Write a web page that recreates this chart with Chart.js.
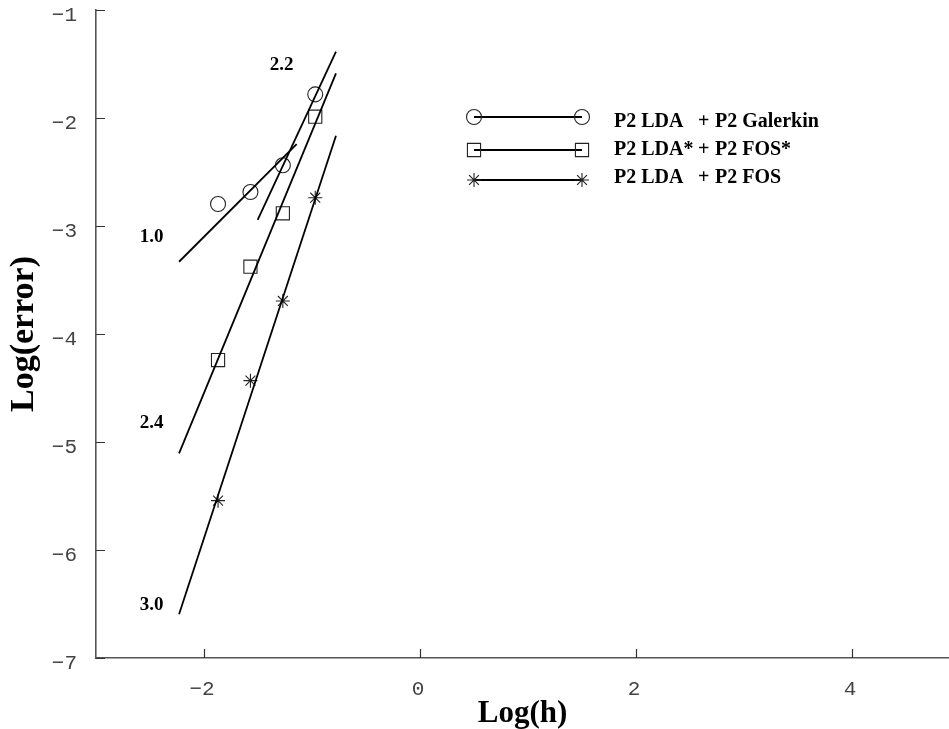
<!DOCTYPE html>
<html>
<head>
<meta charset="utf-8">
<script src="https://cdn.jsdelivr.net/npm/chart.js@4.4.1/dist/chart.umd.min.js"></script>
<style>
html,body{margin:0;padding:0;background:#fff;}
#wrap{width:949px;height:729px;position:relative;}
</style>
</head>
<body>
<div id="wrap"><canvas id="c" width="949" height="729"></canvas></div>
<script>
// ---- data ----
const logH = [-1.87, -1.57, -1.27, -0.97];
const galerkinErr = [-2.796, -2.685, -2.438, -1.781];
const fosStarErr  = [-4.241, -3.377, -2.882, -1.988];
const fosErr      = [-5.543, -4.432, -3.694, -2.738];

// reference slope lines (end points, data units)
const slope10X = [-2.231, -1.142], slope10Y = [-3.331, -2.241];
const slope22X = [-1.503, -0.778], slope22Y = [-2.944, -1.386];
const slope24X = [-2.231, -0.778], slope24Y = [-5.105, -1.586];
const slope30X = [-2.231, -0.778], slope30Y = [-6.595, -2.164];

const slopeLabels = ['1.0', '2.2', '2.4', '3.0'];
const slopeLabelX = [-2.484, -1.281, -2.484, -2.484];
const slopeLabelY = [-3.105, -1.509, -4.821, -6.509];

const xTicks = [-2, 0, 2, 4];
const yTicks = [-7, -6, -5, -4, -3, -2, -1];

const legendLeft  = ['P2 LDA', 'P2 LDA*', 'P2 LDA'];
const legendPlus  = ['+', '+', '+'];
const legendRight = ['P2 Galerkin', 'P2 FOS*', 'P2 FOS'];

// ---- helpers ----
const pts = (xs, ys) => xs.map((x, i) => ({x: x, y: ys[i]}));
const fmt = v => (v < 0 ? '\u2212' + Math.abs(v) : String(v));
const serifBold = '"Liberation Serif", "Times New Roman", serif';
const tickFont = '"Liberation Mono", "DejaVu Sans Mono", monospace';
const markerColor = '#222';
const lineColor = '#000';

const markerStyles = [
  {pointStyle: 'circle', radius: 7.5},
  {pointStyle: 'rect', radius: 9.3},
  {pointStyle: 'star', radius: 7}
];

function lineDs(xs, ys) {
  return {
    data: pts(xs, ys), showLine: true, borderColor: lineColor, borderWidth: 1.8,
    pointRadius: 0, pointHoverRadius: 0, fill: false
  };
}
function markDs(ys, m) {
  return {
    data: pts(logH, ys), showLine: false, pointStyle: m.pointStyle, pointRadius: m.radius,
    pointHoverRadius: m.radius, borderColor: markerColor, backgroundColor: 'rgba(0,0,0,0)',
    pointBorderWidth: 1.1
  };
}

const tickMarks = {
  id: 'tickMarks',
  afterDraw(chart) {
    const ctx = chart.ctx, xs = chart.scales.x, ys = chart.scales.y;
    const area = chart.chartArea;
    ctx.save();
    ctx.strokeStyle = '#333';
    ctx.lineWidth = 1.2;
    ctx.beginPath();
    xTicks.forEach(v => {
      const px = Math.round(xs.getPixelForValue(v)) + 0.5;
      ctx.moveTo(px, area.bottom); ctx.lineTo(px, area.bottom - 9);
    });
    yTicks.forEach(v => {
      const py = Math.round(ys.getPixelForValue(v)) + 0.5;
      ctx.moveTo(area.left, py); ctx.lineTo(area.left + 9, py);
    });
    ctx.stroke();
    ctx.restore();
  }
};

const slopeText = {
  id: 'slopeText',
  afterDatasetsDraw(chart) {
    const ctx = chart.ctx, xs = chart.scales.x, ys = chart.scales.y;
    ctx.save();
    ctx.fillStyle = '#000';
    ctx.font = 'bold 19px ' + serifBold;
    ctx.textAlign = 'center';
    ctx.textBaseline = 'middle';
    slopeLabels.forEach((t, i) => {
      ctx.fillText(t, xs.getPixelForValue(slopeLabelX[i]), ys.getPixelForValue(slopeLabelY[i]));
    });
    ctx.restore();
  }
};

const customLegend = {
  id: 'customLegend',
  afterDraw(chart) {
    const ctx = chart.ctx;
    const symY = [117, 150, 180];
    const baseY = [126.5, 154.5, 183];
    const x1 = 474, x2 = 582;
    ctx.save();
    legendLeft.forEach((t, i) => {
      ctx.strokeStyle = lineColor;
      ctx.lineWidth = 1.8;
      ctx.beginPath();
      ctx.moveTo(x1, symY[i]); ctx.lineTo(x2, symY[i]);
      ctx.stroke();
      ctx.strokeStyle = markerColor;
      ctx.fillStyle = 'rgba(0,0,0,0)';
      ctx.lineWidth = 1.1;
      const m = markerStyles[i];
      Chart.helpers.drawPoint(ctx, {pointStyle: m.pointStyle, radius: m.radius, borderWidth: 1.1, rotation: 0}, x1, symY[i]);
      Chart.helpers.drawPoint(ctx, {pointStyle: m.pointStyle, radius: m.radius, borderWidth: 1.1, rotation: 0}, x2, symY[i]);
      ctx.fillStyle = '#000';
      ctx.font = 'bold 20px ' + serifBold;
      ctx.textAlign = 'left';
      ctx.textBaseline = 'alphabetic';
      ctx.fillText(t, 614, baseY[i]);
      ctx.fillText(legendPlus[i], 698, baseY[i]);
      ctx.fillText(legendRight[i], 715, baseY[i]);
    });
    ctx.restore();
  }
};

new Chart(document.getElementById('c'), {
  type: 'scatter',
  data: {
    datasets: [
      lineDs(slope10X, slope10Y),
      lineDs(slope22X, slope22Y),
      lineDs(slope24X, slope24Y),
      lineDs(slope30X, slope30Y),
      markDs(galerkinErr, markerStyles[0]),
      markDs(fosStarErr, markerStyles[1]),
      markDs(fosErr, markerStyles[2])
    ]
  },
  options: {
    responsive: false,
    animation: false,
    devicePixelRatio: 1,
    layout: {autoPadding: false, padding: {top: 10, left: 0, right: 0, bottom: 0}},
    plugins: {legend: {display: false}, tooltip: {enabled: false}},
    scales: {
      x: {
        type: 'linear', position: 'bottom', min: -3, max: 4.898,
        grid: {display: false, drawTicks: false},
        border: {display: true, color: '#555', width: 1.6},
        afterBuildTicks: s => { s.ticks = xTicks.map(v => ({value: v})); },
        afterFit: s => { s.height = 71; s.paddingLeft = 0; s.paddingRight = 0; },
        ticks: {
          color: '#444', padding: 21, labelOffset: -2, maxRotation: 0, autoSkip: false,
          font: {family: tickFont, size: 21, lineHeight: 1},
          callback: v => fmt(v)
        },
        title: {
          display: true, text: 'Log(h)', color: '#000',
          font: {family: serifBold, size: 31, weight: 'bold', lineHeight: 1},
          padding: {top: 0, bottom: 0}
        }
      },
      y: {
        type: 'linear', position: 'left', min: -7, max: -1,
        grid: {display: false, drawTicks: false},
        border: {display: true, color: '#555', width: 1.6},
        afterBuildTicks: s => { s.ticks = yTicks.map(v => ({value: v})); },
        afterFit: s => { s.width = 96; s.paddingTop = 0; s.paddingBottom = 0; },
        ticks: {
          color: '#444', padding: 19, labelOffset: 5, autoSkip: false,
          font: {family: tickFont, size: 21, lineHeight: 1},
          callback: v => fmt(v)
        },
        title: {
          display: true, text: 'Log(error)', color: '#000',
          font: {family: serifBold, size: 34, weight: 'bold', lineHeight: 1},
          padding: {top: 7, bottom: 0}
        }
      }
    }
  },
  plugins: [tickMarks, slopeText, customLegend]
});
</script>
</body>
</html>
